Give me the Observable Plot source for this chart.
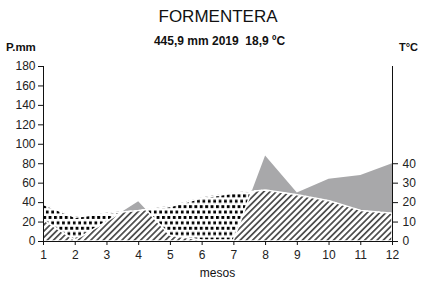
<!DOCTYPE html>
<html><head><meta charset="utf-8">
<script src="https://cdn.jsdelivr.net/npm/d3@7"></script>
<script src="https://cdn.jsdelivr.net/npm/@observablehq/plot@0.6"></script>
<style>
body{margin:0;background:#fff;}
#wrap{position:relative;width:421px;height:281px;overflow:hidden;background:#fff}
#wrap svg{position:absolute;left:0;top:0}
</style></head><body>
<svg width="0" height="0" style="position:absolute">
<defs>
<pattern id="hatch" patternUnits="userSpaceOnUse" width="4.4" height="4.4" patternTransform="rotate(45)">
<rect width="4.4" height="4.4" fill="#fff"/>
<rect x="0" y="0" width="1.7" height="4.4" fill="#4a4a4a"/>
</pattern>
<pattern id="dots" patternUnits="userSpaceOnUse" width="5.4" height="10.8">
<rect width="5.4" height="10.8" fill="#fff"/>
<rect x="0" y="0" width="2.9" height="2.9" fill="#000"/>
<rect x="2.7" y="5.4" width="2.9" height="2.9" fill="#000"/>
</pattern>
</defs>
</svg>
<div id="wrap"></div>
<script>
const months = [1,2,3,4,5,6,7,8,9,10,11,12];
const precip = [22,1,20,41,6,1,1,88,50,64,68,80];
const tempC = [19,12.5,14.5,16,18,22.5,25,26.5,24,21,16,14.5];
const precipTicks = [0,20,40,60,80,100,120,140,160,180];
const tempTicks = [0,10,20,30,40];
const title = "FORMENTERA";
const subtitle = "445,9 mm 2019  18,9 ºC";
const leftLabel = "P.mm";
const rightLabel = "T°C";
const xLabel = "mesos";

const data = months.map((m,i)=>({month:m, p:precip[i], t:tempC[i]*2}));
const font = "'Liberation Sans', Arial, Helvetica, sans-serif";

const chart = Plot.plot({
  width:421, height:281,
  marginTop:66, marginBottom:40, marginLeft:43, marginRight:29,
  x:{domain:[1,12]},
  y:{domain:[0,180]},
  style:{fontFamily:font, fontSize:"12px", background:"transparent", color:"#222"},
  marks:[
    Plot.areaY(data,{x:"month", y:"p", fill:"#a8a8aa"}),
    Plot.areaY(data,{x:"month", y:"t", fill:"url(#dots)"}),
    Plot.areaY(data,{x:"month", y:"p", fill:"url(#hatch)", stroke:"white", strokeWidth:1.5}),
    Plot.lineY(data,{x:"month", y:"t", stroke:"white", strokeWidth:1.5}),
    Plot.ruleX([1],{y1:0, y2:180, stroke:"#111"}),
    Plot.ruleX([12],{y1:0, y2:180, stroke:"#111"}),
    Plot.ruleY([0],{stroke:"#111"}),
    Plot.axisY(precipTicks,{anchor:"left", tickSize:5, tickPadding:3, label:null, stroke:"#111"}),
    Plot.axisY(tempTicks.map(t=>t*2),{anchor:"right", tickSize:5, tickPadding:5, label:null, tickFormat:d=>d/2, stroke:"#111"}),
    Plot.axisX(months,{anchor:"bottom", tickSize:4, tickPadding:5, label:null, stroke:"#111"})
  ]
});

// clip hatched area to the temperature area
const areas = chart.querySelectorAll('g[aria-label="area"]');
if (areas.length >= 3) {
  const tPath = areas[1].querySelector("path");
  const ns = "http://www.w3.org/2000/svg";
  const defs = document.createElementNS(ns,"defs");
  const cp = document.createElementNS(ns,"clipPath");
  cp.setAttribute("id","tclip");
  const p = document.createElementNS(ns,"path");
  p.setAttribute("d", tPath.getAttribute("d"));
  if (areas[1].getAttribute("transform")) p.setAttribute("transform", areas[1].getAttribute("transform"));
  cp.appendChild(p); defs.appendChild(cp); chart.insertBefore(defs, chart.firstChild);
  const wrapG = document.createElementNS(ns,"g");
  wrapG.setAttribute("clip-path","url(#tclip)");
  areas[2].parentNode.insertBefore(wrapG, areas[2]);
  wrapG.appendChild(areas[2]);
}

const wrap = document.getElementById("wrap");
wrap.appendChild(chart);

const overlay = d3.select(wrap).append("svg").attr("width",421).attr("height",281)
  .style("font-family", font).attr("fill","#111");
overlay.append("text").attr("x",218).attr("y",21.7).attr("text-anchor","middle").attr("font-size",17).text(title);
overlay.append("text").attr("x",219.5).attr("y",45).attr("text-anchor","middle").attr("font-size",12).attr("font-weight","bold").style("white-space","pre").text(subtitle);
overlay.append("text").attr("x",6).attr("y",50.5).attr("font-size",11.5).attr("font-weight","bold").text(leftLabel);
overlay.append("text").attr("x",399).attr("y",50.5).attr("font-size",11).attr("font-weight","bold").text(rightLabel);
overlay.append("text").attr("x",217.5).attr("y",277).attr("text-anchor","middle").attr("font-size",12).text(xLabel);
</script>
</body></html>
